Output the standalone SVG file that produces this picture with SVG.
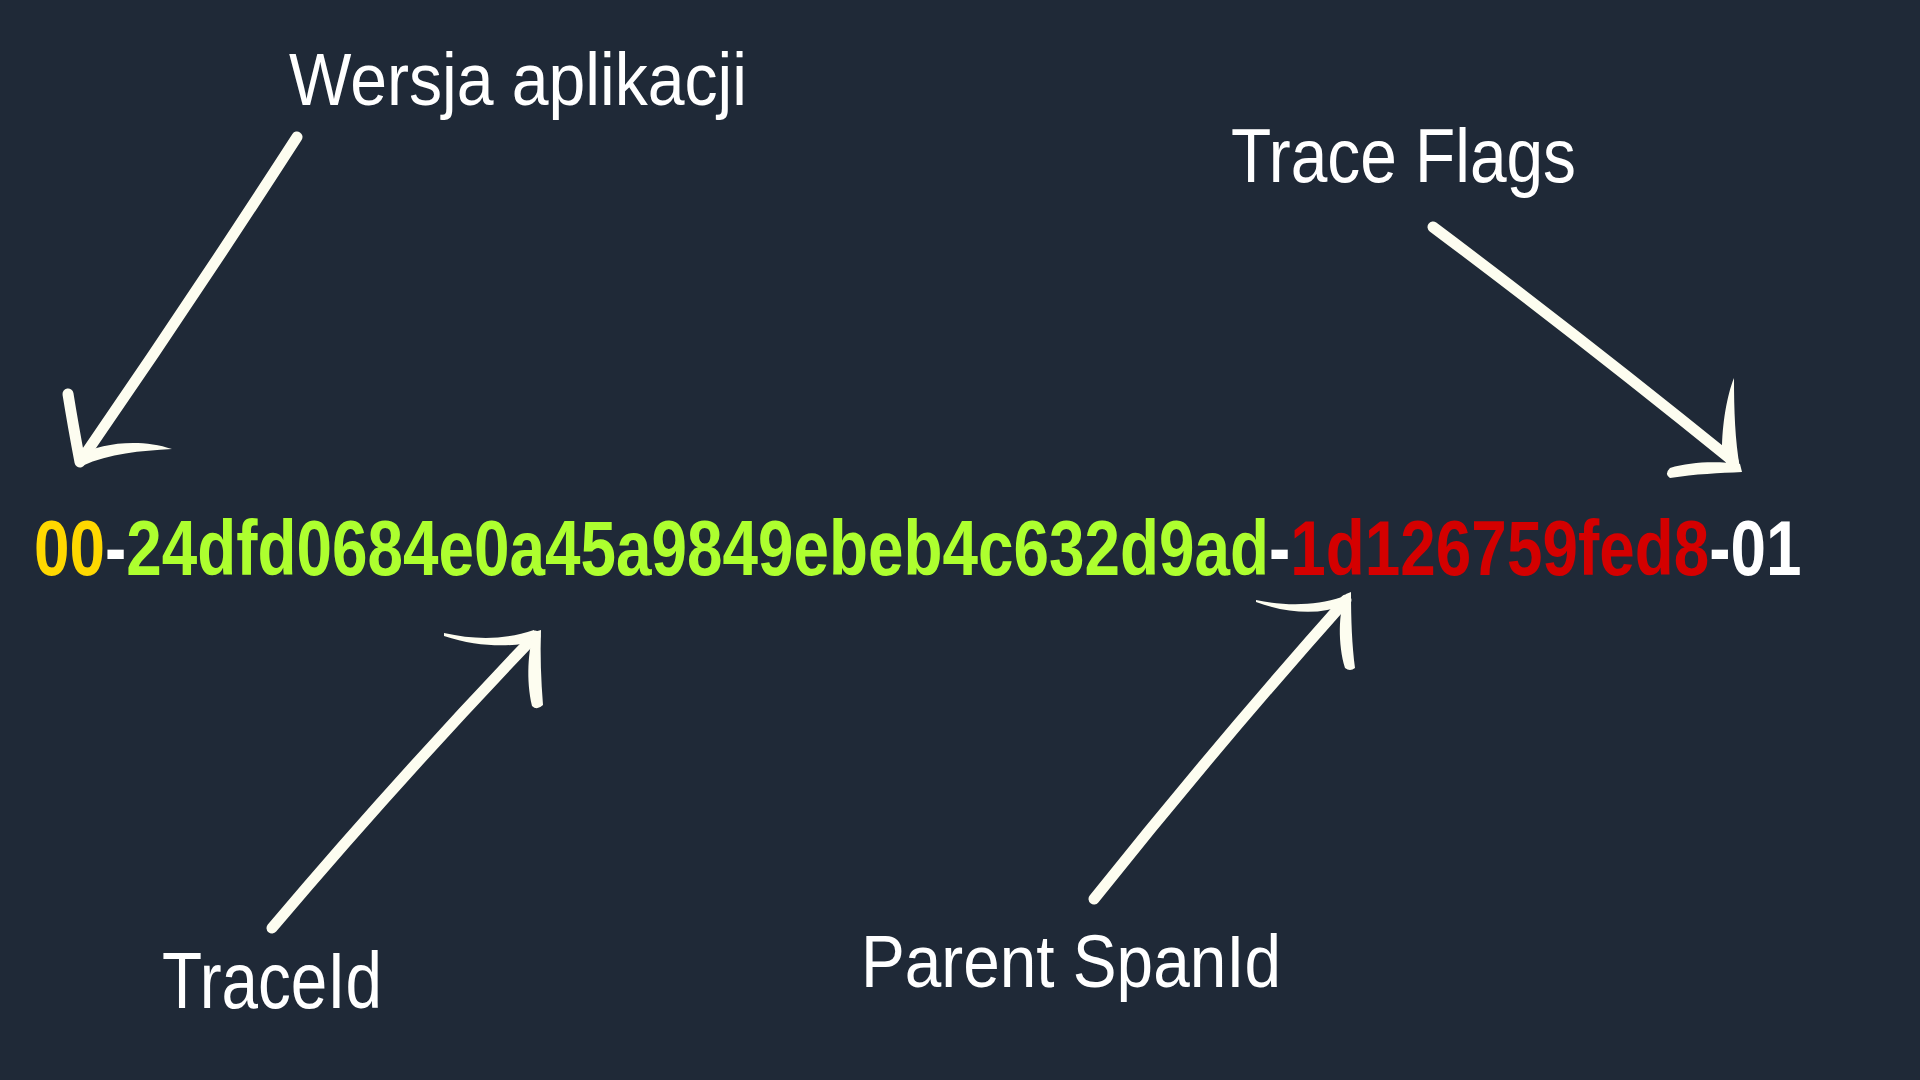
<svg xmlns="http://www.w3.org/2000/svg" width="1920" height="1080" viewBox="0 0 1920 1080">
  <style>
    .hex { font-family: "Liberation Sans", Arial, sans-serif; font-weight: bold; font-size: 77px; }
    .lbl { font-family: "Liberation Sans Narrow", "Liberation Sans", Arial, sans-serif; fill: #ffffff; }
    .ver { fill: #ffd800; }
    .tid { fill: #adff2f; }
    .sid { fill: #d40000; }
    .sep { fill: #ffffff; }
    .shaft { fill: none; stroke: #fdfdf0; stroke-width: 11; stroke-linecap: round; stroke-linejoin: round; }
    .brush { fill: #fdfdf0; }
  </style>
  <rect width="1920" height="1080" fill="#1f2937"/>

  <g id="traceparent">
    <text class="hex" x="41" y="575" transform="scale(0.8292,1)"><tspan class="ver">00</tspan><tspan class="sep">-</tspan><tspan class="tid">24dfd0684e0a45a9849ebeb4c632d9ad</tspan><tspan class="sep">-</tspan><tspan class="sid">1d126759fed8</tspan><tspan class="sep">-01</tspan></text>
  </g>

  <g id="label-wersja">
    <text class="lbl" x="289" y="105" font-size="74" textLength="458" lengthAdjust="spacingAndGlyphs">Wersja aplikacji</text>
  </g>
  <g id="label-traceflags">
    <text class="lbl" x="1231" y="182" font-size="76" textLength="345" lengthAdjust="spacingAndGlyphs">Trace Flags</text>
  </g>
  <g id="label-traceid">
    <text class="lbl" x="162" y="1008" font-size="80" textLength="220" lengthAdjust="spacingAndGlyphs">TraceId</text>
  </g>
  <g id="label-parentspanid">
    <text class="lbl" x="861" y="987" font-size="75" textLength="420" lengthAdjust="spacingAndGlyphs">Parent SpanId</text>
  </g>

  <g id="connectors">
    <g id="arrow-wersja">
      <path class="shaft" d="M297,137 Q193,298 84,456"/>
      <path class="shaft" d="M68,394 Q73,425 80,462"/>
      <path class="brush" d="M80,455 C100,443 140,438 172,449 C140,451 110,453 82,466 Z"/>
    </g>
    <g id="arrow-traceflags">
      <path class="shaft" d="M1433,227 Q1585,341 1733,461"/>
      <path class="brush" d="M1734,378 C1727,395 1722,425 1722,450 L1727,466 L1740,468 C1735,440 1734,410 1734,378 Z"/>
      <path class="brush" d="M1740,464 C1715,461 1690,462 1670,468 Q1664,474 1670,478 C1695,474 1720,473 1742,472 Z"/>
    </g>
    <g id="arrow-traceid">
      <path class="shaft" d="M272,928 Q399,778 535,636"/>
      <path class="brush" d="M444,633 C475,640 505,640 534,630 L537,641 C515,647 480,648 444,636 Z"/>
      <path class="brush" d="M534,632 C528,650 526,680 532,706 Q537,711 543,705 C541,680 540,655 541,630 Z"/>
    </g>
    <g id="arrow-parentspanid">
      <path class="shaft" d="M1094,899 Q1216,746 1346,600"/>
      <path class="brush" d="M1256,600 C1285,606 1315,606 1342,597 L1345,605 C1320,615 1290,614 1256,602 Z"/>
      <path class="brush" d="M1346,594 C1338,612 1338,645 1345,668 Q1350,672 1355,668 C1352,645 1351,620 1351,592 Z"/>
    </g>
  </g>
</svg>
